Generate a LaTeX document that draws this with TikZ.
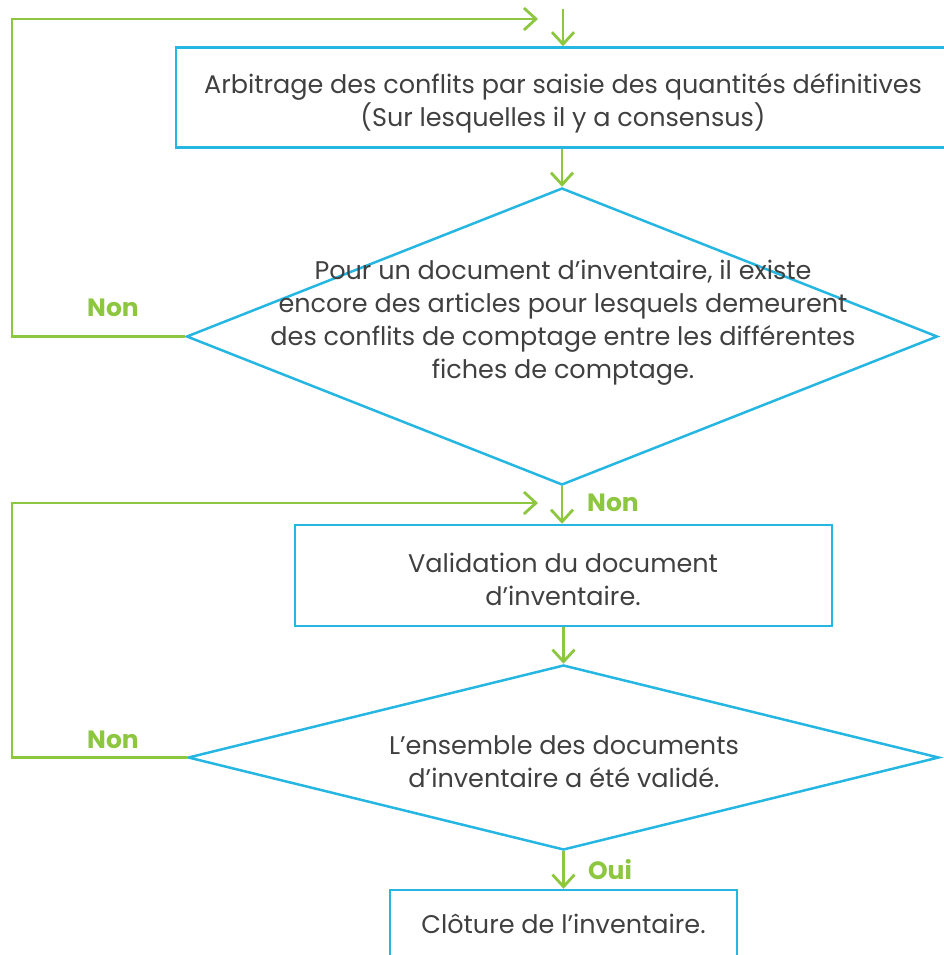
\documentclass[tikz,border=0pt]{standalone}
\usepackage{fontspec}
\setmainfont{Poppins}
\usepackage{xcolor}
\usepackage{tikz}
\usetikzlibrary{shapes.geometric,arrows.meta}
\definecolor{flowblue}{RGB}{38,182,226}
\definecolor{flowgreen}{RGB}{141,198,63}
\definecolor{flowtext}{RGB}{64,64,64}

\begin{document}
\begin{tikzpicture}[x=1pt,y=-1pt,
  box/.style={rectangle,draw=flowblue,line width=2.5pt,inner sep=0pt},
  decision/.style={diamond,draw=flowblue,line width=2.5pt,inner sep=0pt},
  txt/.style={text=flowtext,align=center,inner sep=0pt,font=\fontsize{25.5}{33}\selectfont},
  answer/.style={text=flowgreen,inner sep=0pt,font=\fontsize{25}{28}\selectfont\bfseries},
  flow/.style={draw=flowgreen,line width=2.8pt,-{Straight Barb[length=12pt,width=22pt]}}]
  \useasboundingbox (0,0) rectangle (943,955);
  % shapes
  \node[box,minimum width=780pt,minimum height=100pt] (arbitrage) at (566,97.5) {};
  \node[decision,minimum width=751pt,minimum height=297pt] (conflits) at (562,336.5) {};
  \node[box,minimum width=537pt,minimum height=101pt] (validation) at (563.5,575.5) {};
  \node[decision,minimum width=751pt,minimum height=185pt] (valide) at (563.5,757.5) {};
  \node[box,minimum width=347pt,minimum height=68pt] (cloture) at (563.5,924) {};
  % texts
  \node[txt] (arbitrage text) at (563,103)
    {Arbitrage des conflits par saisie des quantités définitives\\(Sur lesquelles il y a consensus)};
  \node[txt] (conflits text) at (563,323)
    {Pour un document d’inventaire, il existe\\encore des articles pour lesquels demeurent\\des conflits de comptage entre les différentes\\fiches de comptage.};
  \node[txt] (validation text) at (563,579.5) {Validation du document\\d’inventaire.};
  \node[txt] (valide text) at (564,762) {L’ensemble des documents\\d’inventaire a été validé.};
  \node[txt] (cloture text) at (563.5,924) {Clôture de l’inventaire.};
  % answers
  \node[answer] (non1) at (113,308) {Non};
  \node[answer] (non2) at (613,503) {Non};
  \node[answer] (non3) at (113,740) {Non};
  \node[answer] (oui) at (610,870) {Oui};
  % connectors
  \coordinate (entry) at (563,9);
  \coordinate (loop top) at (12,19);
  \coordinate (top in) at (538,19);
  \coordinate (loop mid) at (12,503);
  \coordinate (mid in) at (538,503);
  \draw[flow] (entry) -- (entry |- arbitrage.north);
  \draw[flow] (arbitrage.south -| conflits.north) -- (conflits.north);
  \draw[flow] (conflits.south) -- (conflits.south |- validation.north);
  \draw[flow] (validation.south -| valide.north) -- (valide.north);
  \draw[flow] (valide.south) -- (valide.south |- cloture.north);
  \draw[flow] (conflits.west) -| (loop top) -- (top in);
  \draw[flow] (valide.west) -| (loop mid) -- (mid in);
\end{tikzpicture}
\end{document}
